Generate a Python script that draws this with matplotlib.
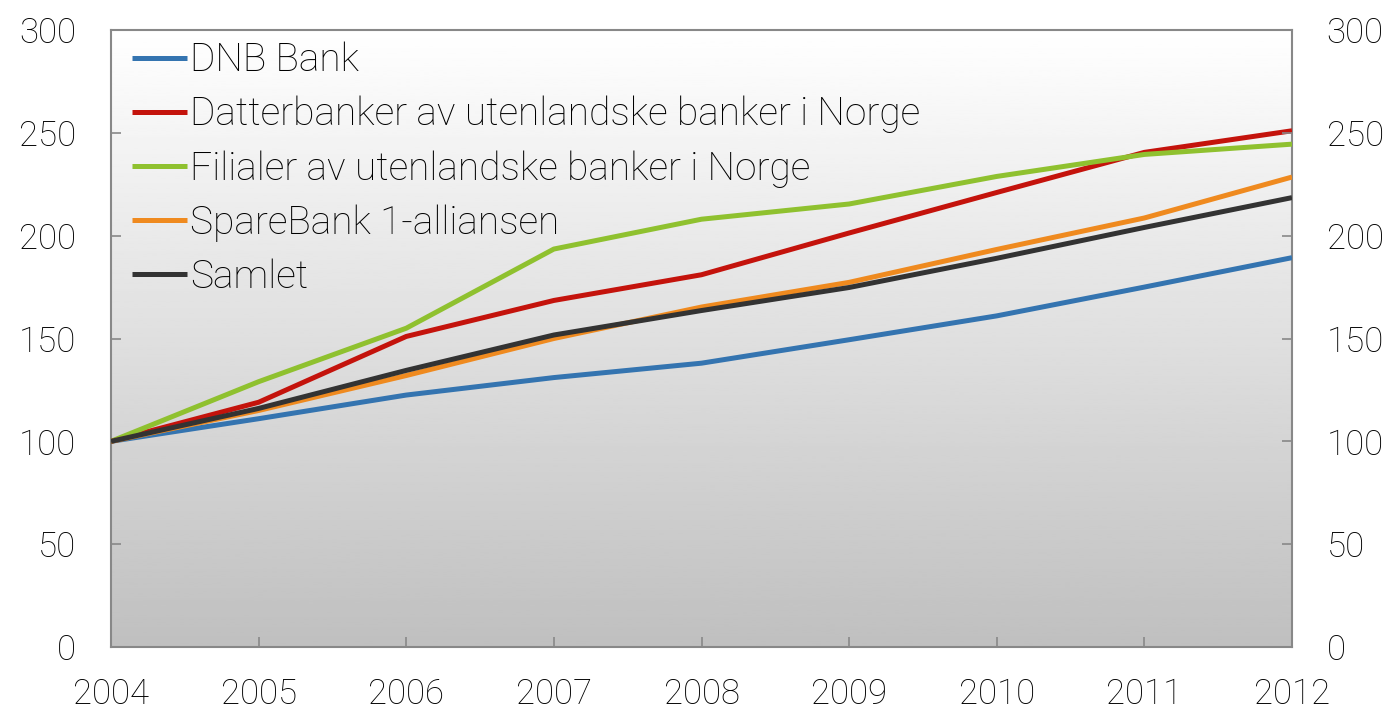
import numpy as np
import matplotlib
matplotlib.use("Agg")
import matplotlib.pyplot as plt

plt.rcParams['font.family'] = ['Roboto', 'DejaVu Sans']
plt.rcParams['font.weight'] = 'light'

years = [2004, 2005, 2006, 2007, 2008, 2009, 2010, 2011, 2012]
dnb = [100, 111, 122.5, 131, 138, 149.4, 161, 175, 189.3]
datter = [100, 119, 151, 168.5, 181, 201.3, 221, 240.5, 251]
filialer = [100, 129, 155, 193.5, 208, 215.4, 228.8, 239.5, 244.5]
sparebank = [100, 115, 132, 150, 165.3, 177.3, 193.3, 208.6, 228.5]
samlet = [100, 116, 134.5, 151.7, 163.6, 174.8, 189, 204, 218.5]

series = [
    ("DNB Bank", dnb, "#3474b0"),
    ("Datterbanker av utenlandske banker i Norge", datter, "#c4130c"),
    ("Filialer av utenlandske banker i Norge", filialer, "#8fc12f"),
    ("SpareBank 1-alliansen", sparebank, "#ef8a1f"),
    ("Samlet", samlet, "#333333"),
]
yticks = [0, 50, 100, 150, 200, 250, 300]

fig = plt.figure(figsize=(13.94, 7.13), dpi=100)
ax = fig.add_axes([111 / 1394, 1 - 647 / 713, (1292 - 111) / 1394, (647 - 30) / 713])

# gradient background, white at top to grey at bottom
grad = np.linspace(1.0, 0.75, 256).reshape(-1, 1)
ax.imshow(grad, cmap="gray", vmin=0, vmax=1, aspect="auto",
          extent=[0, 1, 0, 1], transform=ax.transAxes, zorder=0)

for label, vals, color in series:
    ax.plot(years, vals, color=color, lw=3.6, label=label, zorder=3,
            solid_capstyle="butt")

ax.set_xlim(2004, 2012)
ax.set_ylim(0, 300)
ax.set_xticks(years)
ax.set_yticks(yticks)

for s in ax.spines.values():
    s.set_color("#888888")
    s.set_linewidth(1.5)

ax.tick_params(axis="both", direction="in", length=7, width=1.2,
               color="#888888", labelsize=25)
ax.tick_params(axis="x", pad=22)
ax.tick_params(axis="y", pad=25)

ax2 = ax.twinx()
ax2.set_ylim(0, 300)
ax2.set_yticks(yticks)
ax2.tick_params(axis="y", direction="in", length=7, width=1.2,
                color="#888888", labelsize=25, pad=25)
for s in ax2.spines.values():
    s.set_visible(False)

ax.legend(loc="upper left", frameon=False, fontsize=28, handlelength=1.4,
          handletextpad=0.1, labelspacing=0.43, borderaxespad=0.0,
          borderpad=0.3, bbox_to_anchor=(0.008, 1.0))

fig.savefig("out.png", dpi=100)
